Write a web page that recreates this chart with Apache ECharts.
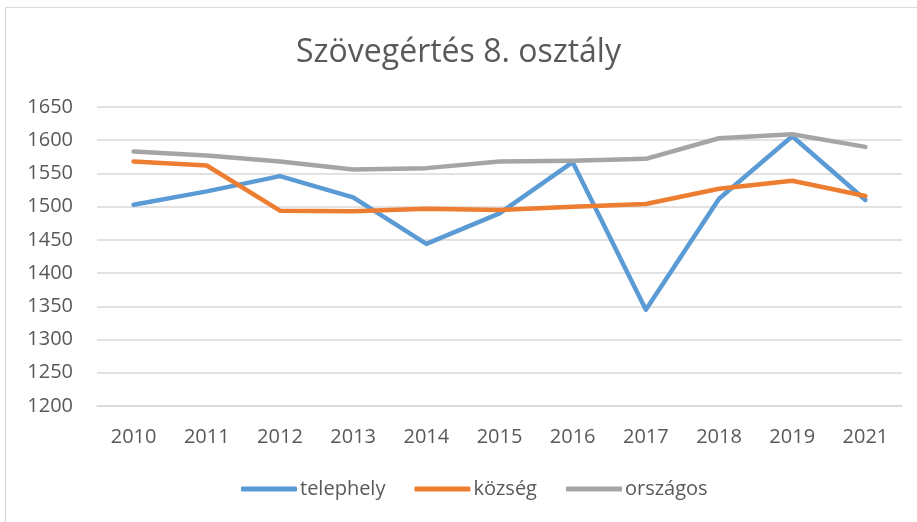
<!DOCTYPE html>
<html>
<head>
<meta charset="utf-8">
<title>Szövegértés 8. osztály</title>
<script src="https://cdn.jsdelivr.net/npm/echarts@6/dist/echarts.min.js"></script>
<style>
    html, body { margin: 0; padding: 0; background: #fff; }
    #frame {
        position: absolute; left: 5px; top: 7px; width: 1000px; height: 1000px;
        border-left: 1px solid #d9d9d9; border-top: 1px solid #d9d9d9;
    }
    #main { position: absolute; left: 0; top: 0; width: 917px; height: 522px; }
</style>
</head>
<body>
<div id="frame"></div>
<div id="main"></div>
<script>
    // adatok
    var years = ['2010', '2011', '2012', '2013', '2014', '2015', '2016', '2017', '2018', '2019', '2021'];
    var telephely = [1503, 1523, 1546, 1514, 1444, 1490, 1567, 1345, 1512, 1606, 1510];
    var kozseg = [1568, 1562, 1494, 1493, 1497, 1495, 1500, 1504, 1527, 1539, 1516];
    var orszagos = [1583, 1577, 1568, 1556, 1558, 1568, 1569, 1572, 1603, 1609, 1590];

    var font = '"Open Sans", "Noto Sans", sans-serif';
    var textColor = '#595959';

    var chart = echarts.init(document.getElementById('main'), null, { renderer: 'canvas' });

    function lineSeries(name, data, color) {
        return {
            name: name,
            type: 'line',
            data: data,
            symbol: 'none',
            smooth: false,
            lineStyle: { width: 4.5, color: color, cap: 'round', join: 'round' },
            itemStyle: { color: color }
        };
    }

    var option = {
        animation: false,
        textStyle: { fontFamily: font },
        title: {
            text: 'Szövegértés 8. osztály',
            left: 'center',
            top: 32,
            textStyle: { fontFamily: font, fontSize: 32, fontWeight: 'normal', color: textColor }
        },
        legend: {
            bottom: 18,
            left: 236,
            itemWidth: 56,
            itemHeight: 5,
            itemGap: 29,
            icon: 'roundRect',
            textStyle: { fontFamily: font, fontSize: 20, color: textColor, padding: [0, 0, 0, -2] },
            data: ['telephely', 'község', 'országos']
        },
        grid: { left: 97, right: 15, top: 107, bottom: 116 },
        xAxis: {
            type: 'category',
            data: years,
            boundaryGap: true,
            axisLine: { show: true, lineStyle: { color: '#d9d9d9', width: 1.5 } },
            axisTick: { show: false },
            axisLabel: { color: textColor, fontSize: 20, fontFamily: font, margin: 21 }
        },
        yAxis: {
            type: 'value',
            min: 1200,
            max: 1650,
            interval: 50,
            axisLine: { show: false },
            axisTick: { show: false },
            axisLabel: {
                color: textColor, fontSize: 20, fontFamily: font, margin: 24,
                formatter: function (v) { return String(v); }
            },
            splitLine: { lineStyle: { color: '#d9d9d9', width: 1.5 } }
        },
        series: [
            lineSeries('telephely', telephely, '#5b9bd5'),
            lineSeries('község', kozseg, '#ed7d31'),
            lineSeries('országos', orszagos, '#a5a5a5')
        ]
    };

    chart.setOption(option);
</script>
</body>
</html>
